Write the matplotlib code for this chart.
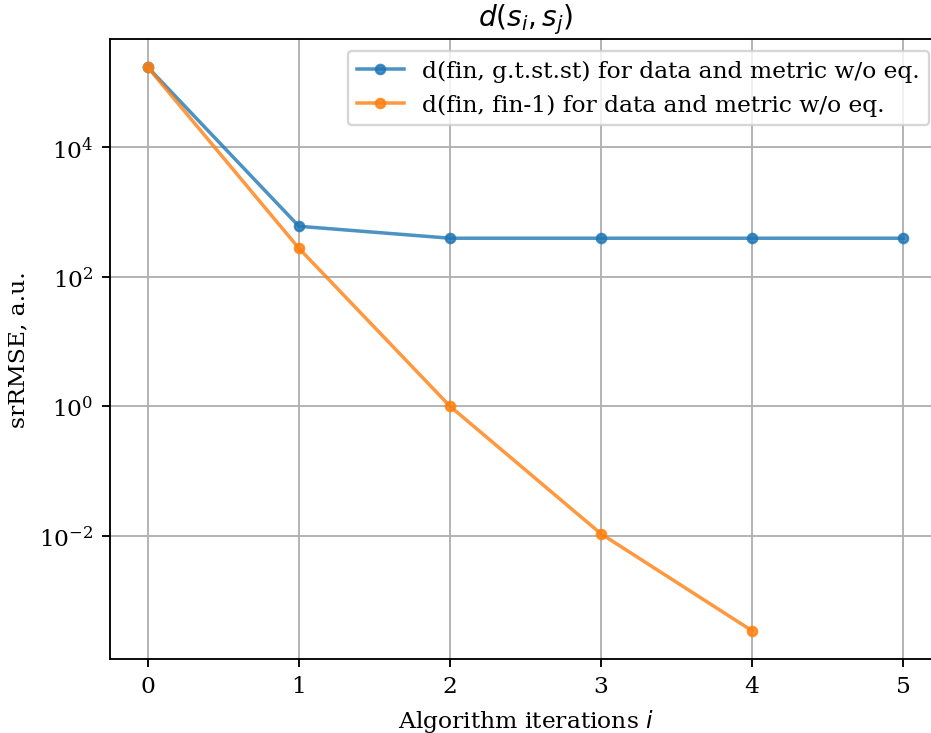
import matplotlib
matplotlib.use("Agg")
import matplotlib.pyplot as plt

plt.rcParams['font.family'] = 'DejaVu Serif'
plt.rcParams['mathtext.fontset'] = 'dejavusans'

iters_gt = [0, 1, 2, 3, 4, 5]
d_gt = [1.72e5, 601, 393, 393, 393, 393]

iters_prev = [0, 1, 2, 3, 4]
d_prev = [1.72e5, 275, 1.0, 0.0107, 3.4e-4]

yticks = [1e-2, 1e0, 1e2, 1e4]

fig = plt.figure(figsize=(931 / 168, 734 / 168), dpi=168)
# axes run a little past the right edge of the canvas
ax = fig.add_axes([110 / 931, 74 / 734, 831 / 931, 620 / 734])

ax.plot(iters_gt, d_gt, marker='o', markersize=4, alpha=0.8,
        label='d(fin, g.t.st.st) for data and metric w/o eq.')
ax.plot(iters_prev, d_prev, marker='o', markersize=4, alpha=0.8,
        label='d(fin, fin-1) for data and metric w/o eq.')

ax.set_yscale('log')
ax.set_yticks(yticks)
ax.minorticks_off()
ax.grid(True)
ax.set_title('$d(s_i, s_j)$')
ax.set_xlabel('Algorithm iterations $i$')
ax.set_ylabel('srRMSE, a.u.')
ax.legend(loc='upper right')

fig.savefig('out.png', dpi=168)
